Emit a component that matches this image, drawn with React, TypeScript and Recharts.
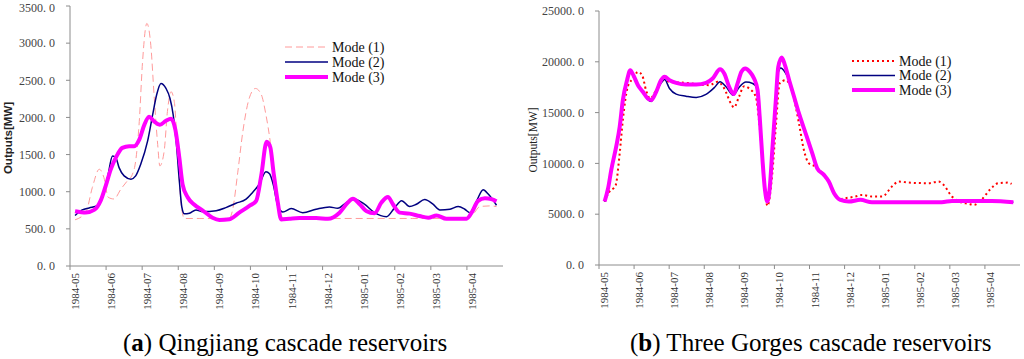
import { LineChart, Line, XAxis, YAxis, Legend } from "recharts";

type Pt = [number, number];

// x = months since start of 1984-05, y = output in MW
const MONTH_TICKS = [0, 1, 2, 3, 4, 5, 6, 7, 8, 9, 10, 11];
const MONTH_LABELS = [
  "1984-05", "1984-06", "1984-07", "1984-08", "1984-09", "1984-10",
  "1984-11", "1984-12", "1985-01", "1985-02", "1985-03", "1985-04",
];
const QJ_Y_TICKS = [0, 500, 1000, 1500, 2000, 2500, 3000, 3500];
const TG_Y_TICKS = [0, 5000, 10000, 15000, 20000, 25000];
const MODE_NAMES = ["Mode (1)", "Mode (2)", "Mode (3)"];

const qjMode1: Pt[] = [
  [0.14, 622], [0.44, 724], [0.62, 1058], [0.81, 1302], [0.94, 1191], [1.06, 924],
  [1.22, 902], [1.41, 1035], [1.59, 1147], [1.73, 1235], [1.82, 1413], [1.92, 1946],
  [2.01, 2746], [2.13, 3265], [2.24, 2969], [2.33, 2302], [2.43, 1635], [2.49, 1347],
  [2.61, 1547], [2.7, 2080], [2.8, 2346], [2.89, 2213], [2.98, 1547], [3.07, 880],
  [3.17, 640], [3.6, 640], [4.1, 638], [4.42, 645], [4.51, 764], [4.65, 1263],
  [4.79, 1809], [4.97, 2263], [5.14, 2390], [5.3, 2309], [5.43, 2036], [5.55, 1672],
  [5.67, 1173], [5.81, 764], [5.9, 645], [6.5, 640], [7.5, 640], [8.5, 640],
  [9.5, 640], [10.5, 640], [11.0, 640], [11.17, 695], [11.36, 800], [11.64, 809],
  [11.82, 800],
];

const qjMode2: Pt[] = [
  [0.14, 680], [0.34, 755], [0.53, 782], [0.76, 813], [0.9, 924], [1.04, 1191],
  [1.18, 1480], [1.27, 1458], [1.36, 1324], [1.5, 1213], [1.69, 1169], [1.82, 1213],
  [1.96, 1369], [2.15, 1680], [2.29, 2035], [2.4, 2302], [2.52, 2458], [2.66, 2391],
  [2.77, 2258], [2.86, 2035], [2.95, 1635], [3.03, 1147], [3.1, 791], [3.17, 702],
  [3.31, 711], [3.49, 755], [3.68, 733], [4.05, 745], [4.32, 786], [4.6, 845],
  [4.88, 900], [5.06, 991], [5.25, 1104], [5.43, 1270], [5.53, 1241], [5.64, 1082],
  [5.76, 809], [5.9, 727], [6.13, 773], [6.45, 718], [6.82, 764], [7.19, 795],
  [7.42, 777], [7.66, 854], [7.89, 900], [8.16, 832], [8.44, 718], [8.77, 664],
  [9.0, 786], [9.19, 880], [9.41, 800], [9.6, 832], [9.83, 895], [10.06, 832],
  [10.25, 754], [10.53, 764], [10.76, 800], [10.94, 764], [11.08, 718], [11.27, 877],
  [11.45, 1027], [11.59, 968], [11.82, 818],
];

const qjMode3: Pt[] = [
  [0.14, 738], [0.44, 720], [0.67, 755], [0.85, 880], [0.99, 1080], [1.13, 1300],
  [1.27, 1458], [1.45, 1590], [1.64, 1613], [1.78, 1613], [1.92, 1700], [2.06, 1900],
  [2.19, 2010], [2.33, 1946], [2.49, 1900], [2.66, 1955], [2.8, 1982], [2.92, 1835],
  [3.03, 1458], [3.12, 1100], [3.26, 925], [3.44, 827], [3.68, 747], [3.95, 650],
  [4.14, 620], [4.42, 630], [4.69, 718], [4.97, 809], [5.16, 877], [5.3, 1218],
  [5.45, 1672], [5.55, 1600], [5.64, 1263], [5.76, 854], [5.85, 627], [6.08, 636],
  [6.36, 645], [6.82, 645], [7.15, 636], [7.47, 718], [7.7, 854], [7.84, 905],
  [8.03, 832], [8.21, 740], [8.44, 709], [8.63, 854], [8.81, 930], [8.95, 832],
  [9.14, 718], [9.41, 705], [9.69, 672], [9.93, 650], [10.16, 680], [10.43, 636],
  [10.99, 636], [11.13, 718], [11.31, 877], [11.5, 913], [11.68, 900], [11.82, 870],
];

const tgMode1: Pt[] = [
  [0.16, 6250], [0.3, 7230], [0.47, 7790], [0.59, 11000], [0.68, 14270], [0.82, 17540],
  [0.97, 18360], [1.11, 19010], [1.23, 18680], [1.34, 17210], [1.46, 16390], [1.63, 17210],
  [1.82, 18190], [2.01, 18030], [2.48, 17930], [3.14, 17700], [3.38, 18030], [3.57, 17370],
  [3.76, 15900], [3.85, 15510], [3.99, 16560], [4.14, 17600], [4.28, 17370], [4.47, 16560],
  [4.56, 14270], [4.68, 9690], [4.8, 5820], [4.94, 9030], [5.04, 13610], [5.15, 17870],
  [5.32, 18190], [5.51, 17050], [5.7, 13940], [5.84, 11320], [5.98, 10010], [6.17, 9690],
  [6.41, 8870], [6.55, 8210], [6.7, 7070], [6.88, 6500], [7.03, 6580], [7.31, 6740],
  [7.5, 6900], [7.78, 6740], [8.07, 6740], [8.35, 7720], [8.54, 8210], [8.83, 8110],
  [9.39, 8050], [9.68, 8210], [9.82, 7890], [10.06, 6740], [10.25, 6250], [10.53, 6020],
  [10.69, 5920], [10.9, 6410], [11.14, 7400], [11.38, 8050], [11.66, 8110], [11.76, 7980],
];

const tgMode2: Pt[] = [
  [0.16, 6250], [0.26, 7560], [0.35, 9360], [0.49, 11650], [0.59, 13610], [0.68, 16230],
  [0.8, 18190], [0.89, 19000], [0.98, 18600], [1.11, 17700], [1.25, 17050], [1.39, 16300],
  [1.49, 16100], [1.63, 17000], [1.77, 17900], [1.87, 18260], [2.01, 17370], [2.2, 16820],
  [2.48, 16620], [2.77, 16490], [3.05, 16790], [3.29, 17470], [3.45, 18030], [3.62, 17540],
  [3.83, 16720], [3.99, 17470], [4.19, 18000], [4.38, 17870], [4.52, 17300], [4.58, 14590],
  [4.66, 10340], [4.73, 7400], [4.8, 6250], [4.87, 7720], [4.94, 11320], [5.04, 16000],
  [5.11, 19000], [5.18, 19400], [5.3, 19000], [5.42, 18190], [5.56, 16560], [5.7, 14920],
  [5.89, 12960], [6.08, 10990], [6.22, 9520], [6.41, 8870], [6.55, 8210], [6.7, 7070],
  [6.88, 6410], [7.12, 6250], [7.45, 6410], [7.78, 6180], [8.83, 6180], [9.77, 6180],
  [10.06, 6310], [11.19, 6310], [11.81, 6180],
];

const tgMode3: Pt[] = [
  [0.16, 6250], [0.26, 7560], [0.35, 9360], [0.49, 11650], [0.59, 13610], [0.68, 16230],
  [0.8, 18190], [0.89, 19170], [0.98, 18680], [1.11, 17700], [1.25, 17050], [1.39, 16390],
  [1.49, 16230], [1.63, 17050], [1.77, 18190], [1.87, 18520], [2.01, 18190], [2.2, 17930],
  [2.48, 17770], [2.77, 17770], [3.05, 17930], [3.24, 18360], [3.45, 19270], [3.57, 18850],
  [3.71, 17540], [3.84, 16820], [3.95, 17870], [4.06, 19010], [4.17, 19340], [4.3, 19010],
  [4.42, 18360], [4.52, 17210], [4.58, 14590], [4.66, 10340], [4.73, 7400], [4.8, 6250],
  [4.87, 7720], [4.94, 11320], [5.04, 16230], [5.11, 19500], [5.21, 20420], [5.3, 19670],
  [5.42, 18190], [5.56, 16560], [5.7, 14920], [5.89, 12960], [6.08, 10990], [6.22, 9520],
  [6.41, 8870], [6.55, 8210], [6.7, 7070], [6.88, 6410], [7.12, 6250], [7.45, 6410],
  [7.78, 6180], [8.83, 6180], [9.77, 6180], [10.06, 6310], [11.19, 6310], [11.81, 6180],
];

interface SeriesStyle {
  stroke: string;
  width: number;
  dash?: string;
}

const QJ_STYLES: SeriesStyle[] = [
  { stroke: "#ff9a9a", width: 1, dash: "7 4" },
  { stroke: "#000080", width: 1.5 },
  { stroke: "#ff00ff", width: 4 },
];

const TG_STYLES: SeriesStyle[] = [
  { stroke: "#ff0000", width: 2, dash: "2 3" },
  { stroke: "#000080", width: 1.5 },
  { stroke: "#ff00ff", width: 4 },
];

const SERIF = "'Liberation Serif', 'Times New Roman', serif";
const SANS = "'Liberation Sans', Arial, sans-serif";

const toRows = (pts: Pt[]) => pts.map(([m, v]) => ({ m, v }));

function MonthTick(props: any) {
  const { x, y, payload } = props;
  return (
    <text
      x={x}
      y={y + 1}
      dy={9}
      transform={`rotate(-90 ${x} ${y + 1})`}
      textAnchor="end"
      fontFamily={SERIF}
      fontSize={11}
      fill="#333"
    >
      {MONTH_LABELS[payload.value]}
    </text>
  );
}

function ModeLegend({ styles, gap }: { styles: SeriesStyle[]; gap: number }) {
  return (
    <svg width={120} height={gap * 2 + 16}>
      {MODE_NAMES.map((name, i) => {
        const y = 7 + i * gap;
        return (
          <g key={name}>
            <line
              x1={0}
              x2={43}
              y1={y}
              y2={y}
              stroke={styles[i].stroke}
              strokeWidth={styles[i].width}
              strokeDasharray={styles[i].dash}
            />
            <text x={47} y={y} dy="0.35em" fontFamily={SERIF} fontSize={14} fill="#111">
              {name}
            </text>
          </g>
        );
      })}
    </svg>
  );
}

interface CascadeChartProps {
  width: number;
  height: number;
  top: number;
  right: number;
  yAxisWidth: number;
  yMax: number;
  yTicks: number[];
  series: Pt[][];
  styles: SeriesStyle[];
  legendLeft: number;
  legendTop: number;
  legendGap: number;
  titleX: number;
  titleFont: string;
  titleWeight: number;
}

function CascadeChart(p: CascadeChartProps) {
  return (
    <LineChart
      width={p.width}
      height={p.height}
      margin={{ top: p.top, right: p.right, bottom: 0, left: 0 }}
    >
      <XAxis
        dataKey="m"
        type="number"
        domain={[0, 12]}
        ticks={MONTH_TICKS}
        tick={<MonthTick />}
        tickSize={4}
        height={45}
        stroke="#8c8c8c"
        allowDataOverflow
      />
      <YAxis
        type="number"
        domain={[0, p.yMax]}
        ticks={p.yTicks}
        width={p.yAxisWidth}
        tickSize={4}
        tickMargin={11}
        tickFormatter={(v: number) => `${v}. 0`}
        tick={{ fontFamily: SERIF, fontSize: 12, fill: "#444" }}
        stroke="#8c8c8c"
        label={(lp: any) => {
          const vb = lp.viewBox;
          const cx = vb.x + p.titleX;
          const cy = vb.y + vb.height / 2 + 2;
          return (
            <text
              x={cx}
              y={cy}
              transform={`rotate(-90 ${cx} ${cy})`}
              textAnchor="middle"
              dy="0.35em"
              fontFamily={p.titleFont}
              fontWeight={p.titleWeight}
              fontSize={11.5}
              fill="#222"
            >
              Outputs[MW]
            </text>
          );
        }}
      />
      <Legend
        layout="vertical"
        align="center"
        verticalAlign="middle"
        content={() => <ModeLegend styles={p.styles} gap={p.legendGap} />}
        wrapperStyle={{ position: "absolute", left: p.legendLeft, top: p.legendTop, width: 120 }}
      />
      {p.series.map((pts, i) => (
        <Line
          key={MODE_NAMES[i]}
          data={toRows(pts)}
          dataKey="v"
          name={MODE_NAMES[i]}
          type="monotone"
          dot={false}
          activeDot={false}
          stroke={p.styles[i].stroke}
          strokeWidth={p.styles[i].width}
          strokeDasharray={p.styles[i].dash}
          isAnimationActive={false}
        />
      ))}
    </LineChart>
  );
}

const captionStyle: React.CSSProperties = {
  position: "absolute",
  top: 329,
  fontFamily: SERIF,
  fontSize: 25,
  color: "#000",
  whiteSpace: "nowrap",
};

export default function App() {
  return (
    <div
      style={{
        position: "fixed",
        left: 0,
        top: 0,
        width: 1024,
        height: 359,
        background: "#fff",
        overflow: "hidden",
      }}
    >
      <div style={{ position: "absolute", left: 0, top: 0 }}>
        <CascadeChart
          width={520}
          height={311}
          top={6}
          right={17}
          yAxisWidth={70}
          yMax={3500}
          yTicks={QJ_Y_TICKS}
          series={[qjMode1, qjMode2, qjMode3]}
          styles={QJ_STYLES}
          legendLeft={285}
          legendTop={40}
          legendGap={15}
          titleX={8}
          titleFont={SANS}
          titleWeight={700}
        />
      </div>
      <div style={{ position: "absolute", left: 510, top: 0 }}>
        <CascadeChart
          width={514}
          height={310}
          top={11}
          right={4}
          yAxisWidth={89}
          yMax={25000}
          yTicks={TG_Y_TICKS}
          series={[tgMode1, tgMode2, tgMode3]}
          styles={TG_STYLES}
          legendLeft={342}
          legendTop={54}
          legendGap={14.5}
          titleX={23}
          titleFont={SERIF}
          titleWeight={400}
        />
      </div>
      <div style={{ ...captionStyle, left: 123 }}>
        (<b>a</b>) Qingjiang cascade reservoirs
      </div>
      <div style={{ ...captionStyle, left: 630 }}>
        (<b>b</b>) Three Gorges cascade reservoirs
      </div>
    </div>
  );
}
